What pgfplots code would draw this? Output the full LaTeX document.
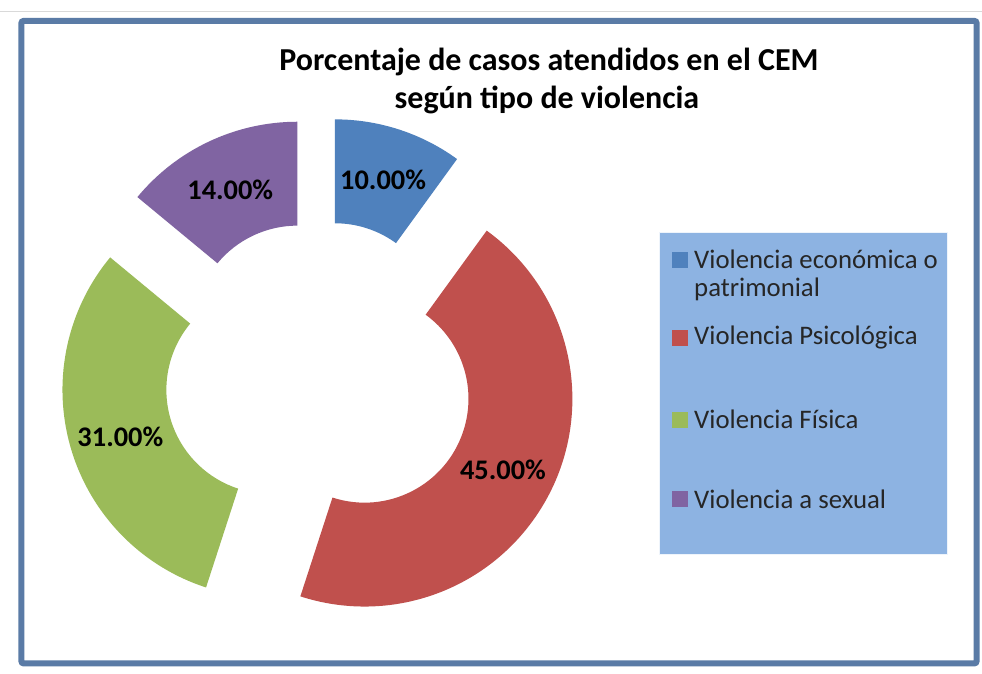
\documentclass[border=0pt]{standalone}
\usepackage{pgfplots}
\pgfplotsset{compat=1.18}
\usepackage{fontspec}
\setmainfont{Carlito}
\definecolor{cBlue}{HTML}{4F81BD}
\definecolor{cRed}{HTML}{C0504D}
\definecolor{cGreen}{HTML}{9BBB59}
\definecolor{cPurple}{HTML}{8064A2}
\definecolor{legbg}{HTML}{8DB3E2}
\definecolor{frameC}{HTML}{5A7BA6}
% #1 colour, #2 cumulative percent before, #3 percent
\newcommand{\sector}[3]{%
  \fill[#1] (axis cs:{319+51*cos(90-3.6*(#2+#3/2))+208*cos(90-3.6*#2)},{-376+51*sin(90-3.6*(#2+#3/2))+208*sin(90-3.6*#2)})
    arc[start angle={90-3.6*#2}, end angle={90-3.6*(#2+#3)}, radius=104pt]
    -- (axis cs:{319+51*cos(90-3.6*(#2+#3/2))+104*cos(90-3.6*(#2+#3))},{-376+51*sin(90-3.6*(#2+#3/2))+104*sin(90-3.6*(#2+#3))})
    arc[start angle={90-3.6*(#2+#3)}, end angle={90-3.6*#2}, radius=52pt] -- cycle;}
\begin{document}
\begin{tikzpicture}
\begin{axis}[scale only axis, width=491pt, height=337pt,
  xmin=0, xmax=982, ymin=-674, ymax=0, hide axis, clip=false]
\fill[white] (axis cs:0,-674) rectangle (axis cs:982,0);
\draw[gray!30, line width=0.5pt] (axis cs:0,-12) -- (axis cs:982,-12);
\draw[frameC, line width=3pt, rounded corners=1pt] (axis cs:21,-664) rectangle (axis cs:977,-21);
% donut sectors: values 10, 45, 31, 14 (%)
\sector{cBlue}{0}{10}
\sector{cRed}{10}{45}
\sector{cGreen}{55}{31}
\sector{cPurple}{86}{14}
% data labels
\node[font=\fontsize{14.2}{16}\selectfont\bfseries] at (axis cs:383,-180) {10.00\%};
\node[font=\fontsize{14.2}{16}\selectfont\bfseries] at (axis cs:503,-470) {45.00\%};
\node[font=\fontsize{14.2}{16}\selectfont\bfseries] at (axis cs:120,-437) {31.00\%};
\node[font=\fontsize{14.2}{16}\selectfont\bfseries] at (axis cs:230,-190) {14.00\%};
% title
\node[font=\fontsize{16}{19}\selectfont\bfseries] at (axis cs:549,-62) {Porcentaje de casos atendidos en el CEM};
\node[font=\fontsize{16}{19}\selectfont\bfseries] at (axis cs:547,-100) {según tipo de violencia};
% legend
\fill[legbg, draw=white!85!legbg] (axis cs:660,-555) rectangle (axis cs:948,-233);
\fill[cBlue] (axis cs:672,-268) rectangle (axis cs:688,-252);
\fill[cRed] (axis cs:672,-346) rectangle (axis cs:688,-330);
\fill[cGreen] (axis cs:672,-428) rectangle (axis cs:688,-412);
\fill[cPurple] (axis cs:672,-508) rectangle (axis cs:688,-492);
\node[anchor=west, inner sep=1pt, font=\fontsize{13.4}{15}\selectfont, text=black!85] at (axis cs:692,-260) {Violencia económica o};
\node[anchor=west, inner sep=1pt, font=\fontsize{13.4}{15}\selectfont, text=black!85] at (axis cs:692,-290) {patrimonial};
\node[anchor=west, inner sep=1pt, font=\fontsize{13.4}{15}\selectfont, text=black!85] at (axis cs:692,-338) {Violencia Psicológica};
\node[anchor=west, inner sep=1pt, font=\fontsize{13.4}{15}\selectfont, text=black!85] at (axis cs:692,-420) {Violencia Física};
\node[anchor=west, inner sep=1pt, font=\fontsize{13.4}{15}\selectfont, text=black!85] at (axis cs:692,-500) {Violencia a sexual};
\end{axis}
\end{tikzpicture}
\end{document}
